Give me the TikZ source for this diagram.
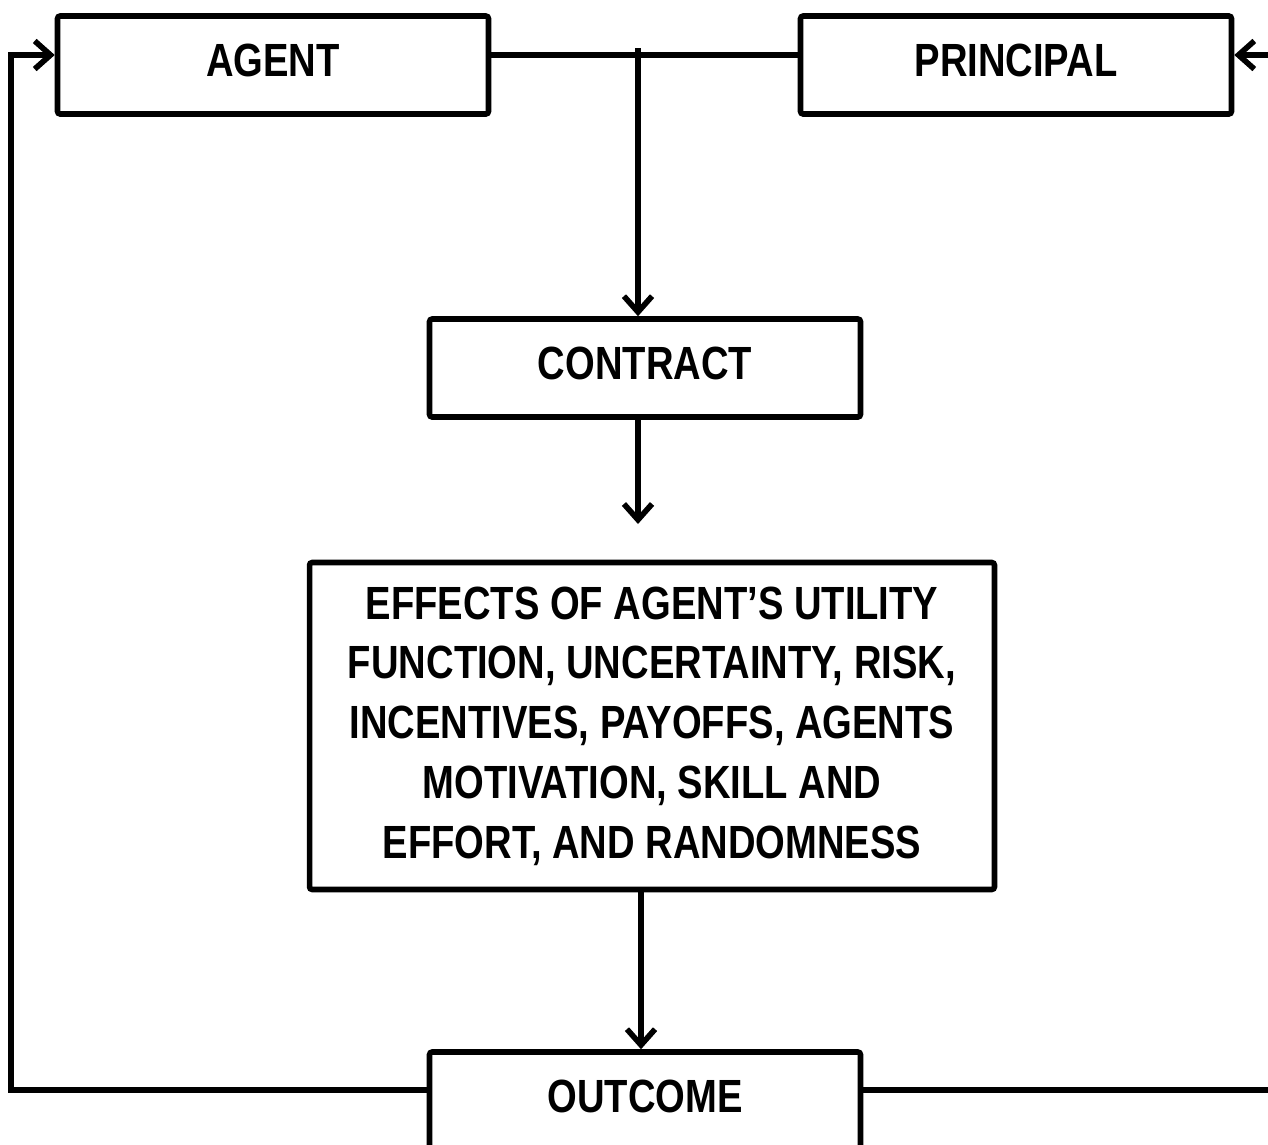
\documentclass[tikz,border=0pt]{standalone}
\usepackage{fontspec}
\setmainfont{Liberation Sans}[FakeStretch=0.82]
\usetikzlibrary{arrows.meta}

\begin{document}
\begin{tikzpicture}[x=0.02cm,y=-0.02cm,
    box/.style={draw, line width=3.2pt, rounded corners=1.5pt, fill=white,
        font=\fontsize{26.5}{34}\selectfont\bfseries, align=center, inner sep=0pt},
    smallbox/.style={box, minimum width=8.62cm, minimum height=1.96cm, text depth=0.2cm},
    link/.style={line width=3.2pt},
    arr/.style={link, -{Straight Barb[length=9pt,width=16pt]}}]
    \useasboundingbox (0,0) rectangle (1268,1144);
    \clip (0,0) rectangle (1268,1144);

    \node[smallbox] (agent) at (273,65) {AGENT};
    \node[smallbox] (principal) at (1016,65) {PRINCIPAL};
    \node[smallbox] (contract) at (645,368) {CONTRACT};
    \node[box, minimum width=13.7cm, minimum height=6.54cm] (effects) at (652,726)
        {EFFECTS OF AGENT'S UTILITY\\ FUNCTION, UNCERTAINTY, RISK,\\ INCENTIVES, PAYOFFS, AGENTS\\ MOTIVATION, SKILL AND\\ EFFORT, AND RANDOMNESS};
    \node[smallbox] (outcome) at (645,1101) {OUTCOME};

    \coordinate (split) at (638,48);
    \coordinate (mid) at (638,524);
    \coordinate (low) at (641,0);

    % top bus and contract
    \draw[link] (agent.east |- 0,55) -- (principal.west |- 0,55);
    \draw[arr] (split) -- (contract.north -| split);
    \draw[arr] (contract.south -| split) -- (mid);
    \draw[arr] (effects.south -| low) -- (outcome.north -| low);

    % feedback loops
    \draw[arr] ([yshift=0.22cm]outcome.west) -| ([xshift=-0.88cm,yshift=0.2cm]agent.west) -- ([yshift=0.2cm]agent.west);
    \draw[arr] ([yshift=0.22cm]outcome.east) -| ([xshift=1cm,yshift=0.2cm]principal.east) -- ([yshift=0.2cm]principal.east);

\end{tikzpicture}
\end{document}
